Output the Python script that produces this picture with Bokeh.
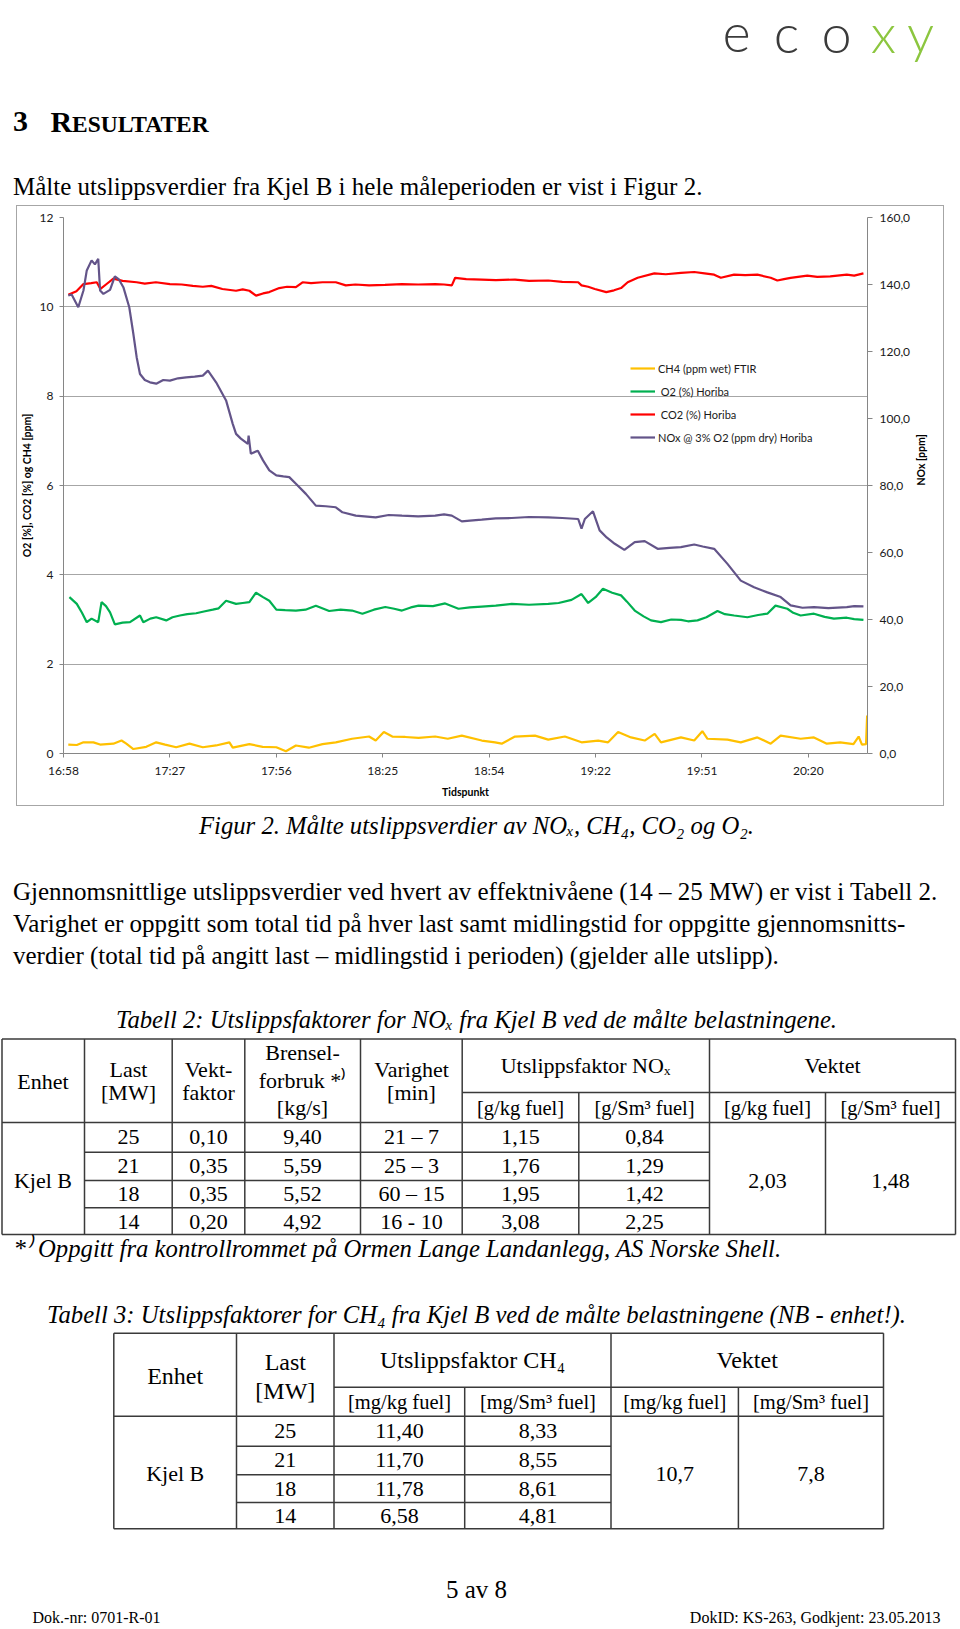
import math
from bokeh.plotting import figure
from bokeh.models import (Range1d, LinearAxis, FixedTicker, CustomJSTickFormatter,
                          Legend, LegendItem, Spacer)
from bokeh.layouts import column, row
from bokeh.core.properties import value
from bokeh.embed import file_html
from bokeh.resources import INLINE

# ------------------------------------------------------------------ data
x_tick_labels = ["16:58", "17:27", "17:56", "18:25", "18:54", "19:22", "19:51", "20:20"]
tick_step_min = 28.8
left_ticks = [0, 2, 4, 6, 8, 10, 12]
right_ticks = [0, 20, 40, 60, 80, 100, 120, 140, 160]

series_names = ["CH4 (ppm wet) FTIR", " O2 (%) Horiba", " CO2 (%) Horiba",
                "NOx @ 3% O2 (ppm dry) Horiba"]

# minutes after 16:58 / value
co2_t = [1.3, 3.5, 5.4, 7.5, 9, 10, 11.5, 13.5, 16, 19.8, 22, 25, 28.8, 32, 35, 37.7, 40, 43,
         46.7, 48.5, 50.3, 52.1, 54, 55.7, 58.4, 60.5, 62.9, 64.7, 67, 70.1, 73.7, 76.4, 79,
         82.7, 87, 91.6, 96, 100.6, 103, 105.1, 106, 109, 113.2, 117, 122.2, 126, 131.2, 135,
         139.3, 140.2, 142, 143.8, 146.9, 149, 150.9, 152.7, 155.4, 159.9, 163, 167.1, 170.7,
         173.5, 176.1, 177.9, 181.5, 184.5, 187.8, 191.4, 193.2, 195, 196.8, 201.3, 204,
         207.5, 212, 214, 216.5]
co2_v = [10.27, 10.35, 10.51, 10.53, 10.55, 10.40, 10.50, 10.63, 10.58, 10.55, 10.52, 10.55,
         10.51, 10.50, 10.47, 10.45, 10.47, 10.40, 10.36, 10.39, 10.36, 10.25, 10.30, 10.33,
         10.42, 10.45, 10.44, 10.55, 10.53, 10.55, 10.55, 10.48, 10.50, 10.48, 10.49, 10.51,
         10.50, 10.51, 10.50, 10.48, 10.65, 10.62, 10.61, 10.60, 10.61, 10.58, 10.59, 10.56,
         10.55, 10.48, 10.45, 10.40, 10.33, 10.37, 10.42, 10.55, 10.65, 10.75, 10.73, 10.76,
         10.78, 10.75, 10.72, 10.65, 10.72, 10.71, 10.72, 10.65, 10.59, 10.62, 10.65, 10.70,
         10.67, 10.68, 10.72, 10.70, 10.75]

nox_t = [1.3, 2.2, 4.0, 5.4, 6.3, 7.6, 8.5, 9.4, 9.9, 10.8, 12.6, 13.9, 15, 16.2, 17.8, 18.9,
         19.8, 20.7, 22, 23.4, 25.1, 27, 28.8, 31, 33.2, 35.5, 37.7, 39.1, 41.3, 44, 45.8, 46.7,
         48, 49.9, 50.1, 50.7, 52.6, 54, 55.7, 57.6, 59.5, 61.1, 62.9, 65.6, 68.3, 71, 73.7,
         75.5, 79.1, 84.5, 88, 91.6, 96, 100.6, 103, 105.1, 107.8, 110, 113.2, 117, 121.3, 126,
         131.2, 135, 139.3, 140.2, 141.1, 143.3, 145.1, 147, 149.2, 151.8, 154.6, 157.3,
         160.8, 164, 167.1, 170.7, 173, 176.1, 179.7, 183.3, 186.9, 190.5, 194.1, 196.8, 200,
         203.1, 207, 212, 214, 216.5]
nox_v = [136.7, 137, 133.2, 138.2, 144.2, 147.2, 146, 147.7, 138.2, 137.2, 138.4, 142.4,
         141.5, 139.2, 133.2, 125.3, 118.3, 113.3, 111.5, 110.8, 110.4, 111.5, 111.3, 112,
         112.3, 112.5, 112.8, 114.3, 110.8, 105.4, 98.4, 95.4, 94, 92.4, 94.9, 89.5, 90.4,
         87.5, 84.5, 83, 82.7, 82.5, 80.5, 77.5, 74, 73.8, 73.5, 72, 71, 70.5, 71.2, 71, 70.8,
         71, 71.4, 71, 69.3, 69.5, 69.8, 70.2, 70.3, 70.6, 70.5, 70.3, 70, 67.1, 70, 72.3,
         66.6, 64.5, 62.6, 60.8, 63.1, 63.4, 61.1, 61.4, 61.6, 62.4, 61.8, 61.1, 56.6, 51.6,
         49.6, 48.1, 46.7, 44.2, 43.5, 43.7, 43.4, 43.7, 44.0, 43.9]

o2_t = [1.6, 3.6, 5, 6.3, 7.6, 9.4, 10.3, 11.5, 12.6, 13.9, 16, 18, 20.7, 21.6, 23.5, 25.1,
        27.8, 29.5, 31.5, 33.5, 35.9, 38, 40.4, 42, 44, 46.7, 48.5, 50.3, 52.1, 54, 55.7, 57.6,
        60, 62.9, 65.5, 68.3, 71.9, 75, 78.1, 80.9, 84, 87.1, 89.5, 91.6, 94, 96.1, 100, 103.3,
        106.9, 110, 113.2, 117, 121.3, 126, 131.2, 134, 137.5, 140.2, 142, 144, 146, 148.5,
        150.9, 152.5, 154.6, 157, 159, 161.7, 164.5, 167.1, 169, 171.6, 174, 177, 179, 181.5,
        185.1, 188, 190.5, 192.7, 195.9, 197.5, 199.5, 203.1, 206, 208.5, 212, 214, 216.5]
o2_v = [3.50, 3.35, 3.15, 2.94, 3.02, 2.94, 3.39, 3.30, 3.16, 2.89, 2.93, 2.94, 3.09, 2.94,
        3.02, 3.05, 2.98, 3.05, 3.09, 3.12, 3.14, 3.18, 3.22, 3.25, 3.42, 3.35, 3.37, 3.39,
        3.60, 3.50, 3.42, 3.22, 3.21, 3.20, 3.22, 3.31, 3.19, 3.22, 3.20, 3.13, 3.22, 3.28,
        3.24, 3.20, 3.27, 3.31, 3.30, 3.36, 3.24, 3.27, 3.29, 3.31, 3.35, 3.33, 3.35, 3.37,
        3.44, 3.57, 3.37, 3.50, 3.69, 3.60, 3.54, 3.40, 3.20, 3.07, 2.98, 2.94, 3.00, 2.99,
        2.96, 2.98, 3.05, 3.19, 3.12, 3.09, 3.05, 3.10, 3.13, 3.31, 3.24, 3.15, 3.09, 3.13,
        3.06, 3.02, 3.04, 3.01, 2.99]

ch4_t = [1.3, 3.6, 5.4, 8.1, 9.9, 13.5, 15.7, 17, 18.9, 22.4, 25.1, 27.5, 30.5, 34.1, 37.7,
         41.3, 44.9, 45.8, 50.3, 53.9, 57.6, 60.2, 62.9, 66.4, 70.1, 73.7, 78.1, 82.7, 84.5,
         86.7, 89, 92.5, 96.1, 100.6, 104, 107.8, 113.2, 116.8, 118.6, 122.2, 127.6, 131.2,
         135.7, 140.2, 144.7, 147.4, 150.1, 153.6, 157.3, 160, 161.7, 167.1, 170.7, 172.9,
         174.3, 179.7, 183.3, 187.8, 191.4, 194.1, 199.5, 203.1, 206.6, 210.2, 213.8, 215.2,
         216.1, 217.2, 217.5]
ch4_v = [0.20, 0.19, 0.25, 0.25, 0.20, 0.22, 0.29, 0.22, 0.10, 0.15, 0.25, 0.20, 0.14, 0.22,
         0.14, 0.18, 0.25, 0.13, 0.21, 0.15, 0.14, 0.05, 0.18, 0.13, 0.21, 0.25, 0.33, 0.38,
         0.29, 0.48, 0.38, 0.37, 0.35, 0.38, 0.33, 0.40, 0.29, 0.25, 0.22, 0.38, 0.40, 0.31,
         0.38, 0.25, 0.29, 0.25, 0.48, 0.36, 0.29, 0.44, 0.25, 0.36, 0.29, 0.50, 0.33, 0.31,
         0.25, 0.36, 0.22, 0.40, 0.33, 0.36, 0.22, 0.25, 0.21, 0.38, 0.20, 0.21, 0.85]

# table 2 (NOx)
t2_last = ["25", "21", "18", "14"]
t2_vekt = ["0,10", "0,35", "0,35", "0,20"]
t2_brensel = ["9,40", "5,59", "5,52", "4,92"]
t2_varighet = ["21 – 7", "25 – 3", "60 – 15", "16 - 10"]
t2_gkg = ["1,15", "1,76", "1,95", "3,08"]
t2_gsm3 = ["0,84", "1,29", "1,42", "2,25"]
t2_weighted = ["2,03", "1,48"]

# table 3 (CH4)
t3_last = ["25", "21", "18", "14"]
t3_mgkg = ["11,40", "11,70", "11,78", "6,58"]
t3_mgsm3 = ["8,33", "8,55", "8,61", "4,81"]
t3_weighted = ["10,7", "7,8"]

# ------------------------------------------------------------------ styles
SERIF = "Liberation Serif"
CHARTF = "Lato"
C_CH4, C_O2, C_CO2, C_NOX = "#ffc000", "#00b050", "#ff0000", "#635489"
GRID = "#a6a6a6"
AXIS = "#868686"
TBL = "#3a3a3a"
BODY = "25px"
CAP = "24.7px"


def page_fig(h, y0):
    p = figure(width=960, height=h, x_range=Range1d(0, 960), y_range=Range1d(y0 + h, y0),
               x_axis_location=None, y_axis_location=None, output_backend="svg",
               toolbar_location=None, min_border=0)
    p.outline_line_color = None
    p.grid.visible = False
    return p


def put(p, xs, ys, texts, size, style="normal", align="left", baseline="middle",
        font=SERIF, color="#000000"):
    p.text(x=xs, y=ys, text=texts, text_font=value(font), text_font_size=value(size),
           text_font_style=style, text_align=align, text_baseline=baseline,
           text_color=color)


# ------------------------------------------------------------------ header
head = page_fig(205, 0)
logo_letters = ["e", "c", "o", "x", "y"]
LOGOF = "DejaVu Sans ExtraLight, Lato Light, DejaVu Sans"
put(head, [736, 786, 836], [32] * 3, logo_letters[:3], "54px", align="center",
    font=LOGOF, color="#3b3b3b")
put(head, [883, 920], [32] * 2, logo_letters[3:], "54px", align="center",
    font=LOGOF, color="#8cc63f")
put(head, [12.5], [121], ["3"], "30px", style="bold")
put(head, [50], [121], ["R"], "30px", style="bold")
put(head, [71.5], [123], ["ESULTATER"], "23.5px", style="bold")
put(head, [12.5], [185.5], ["Målte utslippsverdier fra Kjel B i hele måleperioden er vist i Figur 2."],
    BODY)

# ------------------------------------------------------------------ chart
chart = figure(width=926, height=599, x_range=Range1d(0, 217.6), y_range=Range1d(0, 12),
               output_backend="svg", toolbar_location=None,
               min_border_left=43, min_border_right=76, min_border_top=11,
               min_border_bottom=52)
chart.outline_line_color = None
chart.xgrid.visible = False
chart.ygrid.grid_line_color = GRID
chart.ygrid.grid_line_width = 1.2
chart.extra_y_ranges = {"nox": Range1d(0, 160)}

r_ch4 = chart.line(ch4_t, ch4_v, line_color=C_CH4, line_width=2.2)
r_o2 = chart.line(o2_t, o2_v, line_color=C_O2, line_width=2.2)
r_co2 = chart.line(co2_t, co2_v, line_color=C_CO2, line_width=2.2)
r_nox = chart.line(nox_t, nox_v, line_color=C_NOX, line_width=2.2, y_range_name="nox")

xa = chart.xaxis[0]
xa.ticker = FixedTicker(ticks=[i * tick_step_min for i in range(len(x_tick_labels))])
xa.formatter = CustomJSTickFormatter(
    args=dict(labels=x_tick_labels, step=tick_step_min),
    code="const i = Math.round(tick / step); return (i >= 0 && i < labels.length) ? labels[i] : '';")
xa.axis_label = "Tidspunkt"

ya = chart.yaxis[0]
ya.ticker = FixedTicker(ticks=left_ticks)
ya.axis_label = "O2 [%], CO2 [%] og CH4 [ppm]"

ra = LinearAxis(y_range_name="nox", ticker=FixedTicker(ticks=right_ticks),
                formatter=CustomJSTickFormatter(code="return tick.toFixed(1).replace('.', ',');"),
                axis_label="NOx [ppm]")
chart.add_layout(ra, "right")
ra.axis_label_orientation = math.pi / 2

for ax in (xa, ya, ra):
    ax.axis_line_color = AXIS
    ax.major_tick_line_color = AXIS
    ax.minor_tick_line_color = None
    ax.major_tick_out = 4
    ax.major_tick_in = 0
    ax.major_label_text_font = CHARTF
    ax.major_label_text_font_size = "12px"
    ax.major_label_text_color = "#1a1a1a"
    ax.axis_label_text_font = CHARTF
    ax.axis_label_text_font_size = "10.5px"
    ax.axis_label_text_font_style = "bold"
    ax.axis_label_text_color = "#000000"
xa.major_label_standoff = 5
xa.axis_label_standoff = 5
ya.major_label_standoff = 6
ya.axis_label_standoff = 4
ra.major_tick_out = 5
ra.major_label_standoff = 7
ra.axis_label_standoff = 8

legend = Legend(items=[LegendItem(label=series_names[0], renderers=[r_ch4]),
                       LegendItem(label=series_names[1], renderers=[r_o2]),
                       LegendItem(label=series_names[2], renderers=[r_co2]),
                       LegendItem(label=series_names[3], renderers=[r_nox])],
                location=(567, 306), orientation="vertical")
legend.background_fill_alpha = 0
legend.border_line_color = None
legend.padding = 0
legend.margin = 0
legend.spacing = 3
legend.glyph_width = 25
legend.glyph_height = 20
legend.label_height = 20
legend.label_standoff = 3
legend.label_text_font = CHARTF
legend.label_text_font_size = "11px"
legend.label_text_color = "#1a1a1a"
chart.add_layout(legend)

bs = {"background-color": "#a6a6a6"}
chart_box = column(
    Spacer(width=928, height=1, styles=bs),
    row(Spacer(width=1, height=599, styles=bs), chart, Spacer(width=1, height=599, styles=bs)),
    Spacer(width=928, height=1, styles=bs),
)

# ------------------------------------------------------------------ lower page
LOW0 = 806
low = page_fig(822, LOW0)
put(low, [476], [824.6], ["Figur 2. Målte utslippsverdier av NOₓ, CH₄, CO₂ og O₂."], CAP,
    style="italic", align="center")
put(low, [12.5, 12.5, 12.5], [890.5, 922.5, 954.5], [
    "Gjennomsnittlige utslippsverdier ved hvert av effektnivåene (14 – 25 MW) er vist i Tabell 2.",
    "Varighet er oppgitt som total tid på hver last samt midlingstid for oppgitte gjennomsnitts-",
    "verdier (total tid på angitt last – midlingstid i perioden) (gjelder alle utslipp)."], BODY)
put(low, [476], [1018.6], ["Tabell 2: Utslippsfaktorer for NOₓ fra Kjel B ved de målte belastningene."],
    CAP, style="italic", align="center")

# table 2 grid
t2_top, t2_sub, t2_hb, t2_bot = 1038.5, 1092, 1122, 1234
t2_rows = [1151.7, 1180, 1207.3]
t2_cols = [1.5, 84, 171.7, 244.3, 360, 461.7, 709, 955]
hx0 = [1.5, 461.7, 1.5] + [84] * 3 + [1.5]
hx1 = [955, 955, 955] + [709] * 3 + [955]
hy = [t2_top, t2_sub, t2_hb] + t2_rows + [t2_bot]
low.segment(x0=hx0, y0=hy, x1=hx1, y1=hy, line_color=TBL, line_width=1.5)
vx = t2_cols + [578.3, 825]
vy0 = [t2_top] * len(t2_cols) + [t2_sub, t2_sub]
vy1 = [t2_bot] * len(vx)
low.segment(x0=vx, y0=vy0, x1=vx, y1=vy1, line_color=TBL, line_width=1.5)

put(low, [42.5, 128, 128, 208, 208, 302, 302, 302, 411, 411, 585, 832],
    [1081, 1069, 1092, 1069, 1092, 1052, 1080, 1107, 1069, 1092, 1065, 1065],
    ["Enhet", "Last", "[MW]", "Vekt-", "faktor", "Brensel-", "forbruk *⁾", "[kg/s]",
     "Varighet", "[min]", "Utslippsfaktor NOₓ", "Vektet"], "22px", align="center")
put(low, [520, 644, 767, 890], [1107] * 4,
    ["[g/kg fuel]", "[g/Sm³ fuel]", "[g/kg fuel]", "[g/Sm³ fuel]"], "20.5px", align="center")
t2_row_y = [1136, 1165, 1193, 1221]
for cx, vals in zip([128, 208, 302, 411, 520, 644],
                    [t2_last, t2_vekt, t2_brensel, t2_varighet, t2_gkg, t2_gsm3]):
    put(low, [cx] * 4, t2_row_y, vals, "22px", align="center")
put(low, [42.5, 767, 890], [1180] * 3, ["Kjel B"] + t2_weighted, "22px", align="center")
put(low, [13], [1247.6], ["*⁾ Oppgitt fra kontrollrommet på Ormen Lange Landanlegg, AS Norske Shell."],
    CAP, style="italic")

# table 3
put(low, [476], [1313.6],
    ["Tabell 3: Utslippsfaktorer for CH₄ fra Kjel B ved de målte belastningene (NB - enhet!)."],
    CAP, style="italic", align="center")
t3_top, t3_sub, t3_hb, t3_bot = 1332.7, 1386.7, 1415.7, 1528.3
t3_rows = [1445.7, 1474.3, 1502]
t3_cols = [113.3, 236, 333.5, 610.5, 883]
hx0 = [113.3, 333.5, 113.3] + [236] * 3 + [113.3]
hx1 = [883, 883, 883] + [610.5] * 3 + [883]
hy = [t3_top, t3_sub, t3_hb] + t3_rows + [t3_bot]
low.segment(x0=hx0, y0=hy, x1=hx1, y1=hy, line_color=TBL, line_width=1.5)
vx = t3_cols + [464.2, 737.9]
vy0 = [t3_top] * len(t3_cols) + [t3_sub, t3_sub]
vy1 = [t3_bot] * len(vx)
low.segment(x0=vx, y0=vy0, x1=vx, y1=vy1, line_color=TBL, line_width=1.5)

put(low, [174.7, 284.8, 284.8, 472, 746.7], [1375, 1361, 1390, 1359, 1359],
    ["Enhet", "Last", "[MW]", "Utslippsfaktor CH₄", "Vektet"], "24px", align="center")
put(low, [399, 537.4, 674.2, 810.5], [1401] * 4,
    ["[mg/kg fuel]", "[mg/Sm³ fuel]", "[mg/kg fuel]", "[mg/Sm³ fuel]"], "20.5px",
    align="center")
t3_row_y = [1430, 1459.3, 1488.3, 1515.7]
for cx, vals in zip([284.8, 399, 537.4], [t3_last, t3_mgkg, t3_mgsm3]):
    put(low, [cx] * 4, t3_row_y, vals, "22px", align="center")
put(low, [174.7, 674.2, 810.5], [1473] * 3, ["Kjel B"] + t3_weighted, "22px", align="center")

# footer
put(low, [476], [1589], ["5 av 8"], BODY, align="center")
put(low, [32], [1617], ["Dok.-nr: 0701-R-01"], "16px")
put(low, [940], [1617], ["DokID: KS-263, Godkjent: 23.05.2013"], "16px", align="right")

layout = column(head, row(Spacer(width=16, height=601), chart_box), low)

open("out.html", "w").write(file_html(layout, INLINE))
